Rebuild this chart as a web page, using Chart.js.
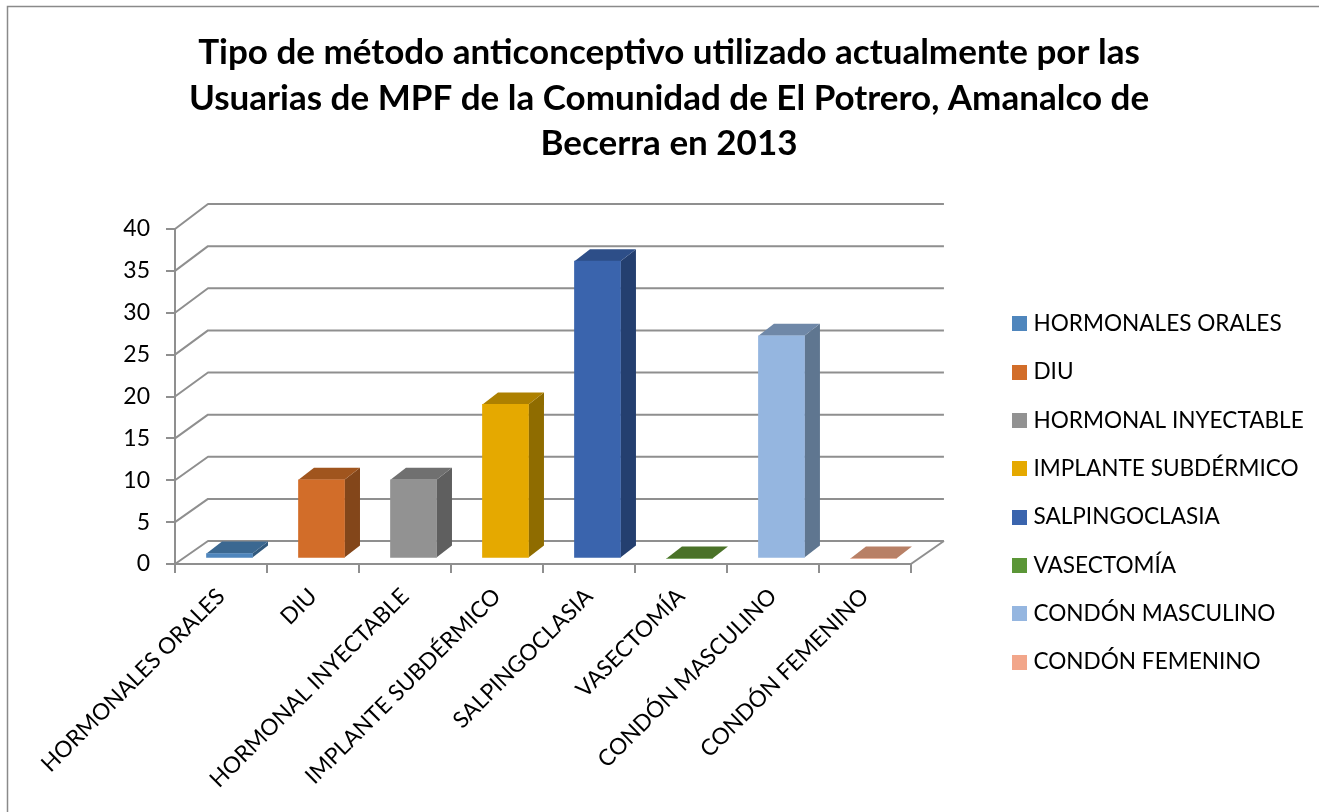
<!DOCTYPE html>
<html><head><meta charset="utf-8">
<script src="https://cdn.jsdelivr.net/npm/chart.js@4"></script>
<style>html,body{margin:0;padding:0;background:#fff}canvas{display:block}</style>
</head><body><canvas id="c" width="1319" height="812"></canvas>
<script>
const titleLines = ["Tipo de método anticonceptivo utilizado actualmente por las","Usuarias de MPF de la Comunidad de El Potrero, Amanalco de","Becerra en 2013"];
const categories = ["HORMONALES ORALES","DIU","HORMONAL INYECTABLE","IMPLANTE SUBDÉRMICO","SALPINGOCLASIA","VASECTOMÍA","CONDÓN MASCULINO","CONDÓN FEMENINO"];
const values = [0.6,9.4,9.4,18.4,35.5,0,26.6,0];
const frontColors = ["#4f86bd","#d26d29","#929292","#e5a900","#3a64ad","#5b9637","#95b6e0","#f2a68a"];
const topColors = ["#3b6891","#a0551e","#707070","#ad8000","#2d4e88","#4a7228","#6f88a8","#b88066"];
const sideColors = ["#325a7e","#83461a","#5f5f5f","#8f6c00","#243f6f","#3d5f21","#5f7690","#a06e58"];
const FONT = "Lato";
const GRID = "#8f8f8f";
const WALL = {dx:33, dyBottom:-23, dyTop:-25};
const BAR_OFF = {dx:8.5, dy:-5.5};
const BAR_DEPTH = {dx:15.5, dy:-12};
const LEGEND_BOTTOM = 699;

function swatch(color){
  const s = document.createElement('canvas'); s.width = 15; s.height = 15;
  const g = s.getContext('2d'); g.fillStyle = color; g.fillRect(0,0,15,15);
  return s;
}
const swatches = frontColors.map(swatch);

const frame = {
  id:'frame',
  afterLayout(chart){ chart.legend.bottom = LEGEND_BOTTOM; },
  beforeDraw(chart){
    const c = chart.ctx;
    c.save(); c.strokeStyle = "#8a8a8a"; c.lineWidth = 1.5;
    c.beginPath(); c.moveTo(7.5,812); c.lineTo(7.5,6.5); c.lineTo(1319,6.5); c.stroke();
    c.restore();
  }
};
const wall = {
  id:'wall',
  beforeDatasetsDraw(chart){
    const c = chart.ctx, y = chart.scales.y, a = chart.chartArea;
    c.save(); c.strokeStyle = GRID; c.lineWidth = 2; c.lineJoin='round';
    y.ticks.forEach(t=>{
      const py = y.getPixelForValue(t.value);
      const dy = WALL.dyBottom + (WALL.dyTop-WALL.dyBottom)*(t.value-y.min)/(y.max-y.min);
      c.beginPath(); c.moveTo(a.left,py); c.lineTo(a.left+WALL.dx,py+dy); c.lineTo(a.right+WALL.dx,py+dy); c.stroke();
    });
    const py0 = y.getPixelForValue(0);
    c.beginPath(); c.moveTo(a.right,py0); c.lineTo(a.right+WALL.dx,py0+WALL.dyBottom); c.stroke();
    const meta = chart.getDatasetMeta(0);
    meta.data.forEach((b,i)=>{
      const l = b.x-b.width/2+BAR_OFF.dx, r = b.x+b.width/2+BAR_OFF.dx, t = b.y+BAR_OFF.dy, bt = b.base+BAR_OFF.dy;
      const d = BAR_DEPTH;
      c.fillStyle = sideColors[i];
      c.beginPath(); c.moveTo(r,t); c.lineTo(r+d.dx,t+d.dy); c.lineTo(r+d.dx,bt+d.dy); c.lineTo(r,bt); c.closePath(); c.fill();
      c.fillStyle = topColors[i];
      c.beginPath(); c.moveTo(l,t); c.lineTo(l+d.dx,t+d.dy); c.lineTo(r+d.dx,t+d.dy); c.lineTo(r,t); c.closePath(); c.fill();
    });
    c.restore();
    c.save(); c.translate(BAR_OFF.dx,BAR_OFF.dy);
  },
  afterDatasetsDraw(chart){ chart.ctx.restore(); }
};

new Chart(document.getElementById('c'),{
  type:'bar',
  data:{labels:categories,datasets:[{data:values,backgroundColor:frontColors,barThickness:46,borderWidth:0,clip:false}]},
  plugins:[frame,wall],
  options:{
    responsive:false,animation:false,
    events:[],
    layout:{autoPadding:false,padding:{left:24.3,right:5.3,top:0,bottom:0}},
    plugins:{
      tooltip:{enabled:false},
      title:{display:true,text:titleLines,color:"#000",font:{family:FONT,size:35,weight:'bold',lineHeight:1.3},padding:{top:30,bottom:62.5}},
      legend:{display:true,position:'right',align:'end',maxWidth:400,
        labels:{usePointStyle:true,pointStyleWidth:6,boxHeight:15,padding:25.7,color:"#000",font:{family:FONT,size:22.6},
          generateLabels(){return categories.map((t,i)=>({text:t,pointStyle:swatches[i],fillStyle:frontColors[i],strokeStyle:frontColors[i],lineWidth:0,hidden:false,index:i}));}}
      }
    },
    scales:{
      x:{grid:{display:true,drawOnChartArea:false,drawTicks:true,tickLength:9,color:GRID,lineWidth:2,offset:true},
         border:{display:true,color:GRID,width:2},
         ticks:{color:"#000",font:{family:FONT,size:22.6},autoSkip:false,minRotation:45,maxRotation:45,padding:10},
         afterFit(s){s.height=248;}},
      y:{min:0,max:40,
         grid:{display:true,drawOnChartArea:false,drawTicks:true,tickLength:9,color:GRID,lineWidth:2},
         border:{display:true,color:GRID,width:2},
         ticks:{stepSize:5,color:"#000",font:{family:FONT,size:23},padding:16},
         afterFit(s){s.width=150.7;}},
      gap:{type:'linear',position:'right',display:true,grid:{display:false},border:{display:false},ticks:{display:false},
         afterFit(s){s.width=79.5;}}
    }
  }
});
</script></body></html>
